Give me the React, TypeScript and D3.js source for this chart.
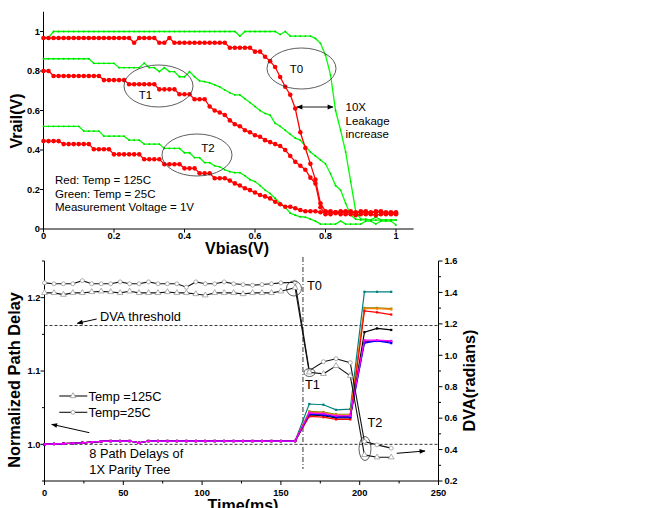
import React from 'react';
import * as d3 from 'd3';

const FONT = "'Liberation Sans', Arial, Helvetica, sans-serif";

// ---------- Top chart data (Vbias sampled every 1/70 V) ----------
const VBIAS_STEP = 1 / 70;
const redT0 = [
  0.967,0.967,0.967,0.967,0.967,0.967,0.967,0.967,0.967,0.967,
  0.967,0.967,0.967,0.967,0.967,0.967,0.967,0.967,0.943,0.967,
  0.967,0.967,0.967,0.943,0.943,0.967,0.943,0.943,0.943,0.943,
  0.943,0.943,0.943,0.943,0.943,0.943,0.943,0.918,0.918,0.918,
  0.918,0.918,0.898,0.898,0.872,0.85,0.82,0.77,0.72,0.68,
  0.61,0.49,0.41,0.33,0.25,0.13,0.09,0.09,0.08,0.09,
  0.09,0.09,0.08,0.09,0.09,0.08,0.09,0.09,0.08,0.08,0.08];
const greenT0 = [
  0.97,0.97,1,1,1,1,1,1,1,1,
  1,1,1,1,1,1,1,1,1,1,
  1,1,1,1,1,1,1,1,1,1,
  1,1,1,1,1,1,1,1,1,0.977,
  1,1,1,1,1,1,1,0.985,1,0.977,
  0.977,0.977,0.977,0.977,0.965,0.94,0.88,0.78,0.6,0.5,
  0.39,0.24,0.09,0.05,0.05,0.045,0.045,0.045,0.045,0.045,0.045];
const greenT1 = [
  0.862,0.862,0.862,0.862,0.862,0.862,0.862,0.862,0.862,0.862,
  0.839,0.839,0.839,0.839,0.839,0.817,0.817,0.817,0.817,0.817,
  0.84,0.817,0.817,0.797,0.817,0.797,0.797,0.771,0.771,0.797,
  0.771,0.75,0.746,0.74,0.73,0.72,0.704,0.69,0.679,0.679,
  0.66,0.64,0.62,0.6,0.585,0.577,0.535,0.52,0.5,0.48,
  0.46,0.45,0.42,0.39,0.37,0.35,0.33,0.28,0.22,0.197,
  0.13,0.07,0.05,0.046,0.046,0.046,0.06,0.046,0.046,0.046,0.046];
const redT1 = [
  0.8,0.8,0.775,0.775,0.775,0.775,0.775,0.775,0.775,0.775,
  0.775,0.775,0.754,0.754,0.754,0.754,0.754,0.733,0.733,0.733,
  0.733,0.733,0.733,0.707,0.707,0.707,0.707,0.682,0.682,0.682,
  0.657,0.657,0.657,0.62,0.6,0.59,0.577,0.55,0.53,0.52,
  0.5,0.49,0.475,0.467,0.45,0.44,0.43,0.42,0.4,0.37,
  0.34,0.32,0.3,0.26,0.23,0.11,0.075,0.075,0.085,0.075,
  0.075,0.075,0.07,0.075,0.075,0.075,0.07,0.075,0.075,0.075,0.075];
const greenT2 = [
  0.52,0.52,0.52,0.52,0.52,0.52,0.52,0.52,0.496,0.496,
  0.496,0.496,0.47,0.47,0.47,0.47,0.47,0.45,0.45,0.45,
  0.43,0.43,0.43,0.43,0.408,0.408,0.408,0.408,0.386,0.386,
  0.361,0.361,0.336,0.336,0.32,0.315,0.3,0.29,0.285,0.285,
  0.27,0.25,0.24,0.22,0.197,0.18,0.156,0.13,0.11,0.08,
  0.07,0.062,0.06,0.05,0.04,0.025,0.025,0.025,0.025,0.04,
  0.025,0.025,0.025,0.025,0.04,0.04,0.025,0.04,0.04,0.04,0.02];
const redT2 = [
  0.445,0.445,0.445,0.445,0.43,0.43,0.43,0.43,0.43,0.43,
  0.404,0.404,0.404,0.404,0.378,0.378,0.378,0.378,0.378,0.378,
  0.353,0.353,0.353,0.353,0.328,0.328,0.328,0.328,0.307,0.307,
  0.307,0.282,0.282,0.282,0.257,0.257,0.257,0.245,0.231,0.22,
  0.206,0.197,0.185,0.172,0.165,0.155,0.138,0.125,0.113,0.113,
  0.105,0.096,0.09,0.09,0.09,0.085,0.085,0.085,0.085,0.085,
  0.085,0.085,0.085,0.085,0.085,0.085,0.085,0.085,0.085,0.085,0.085];

const topTicks = [0, 0.2, 0.4, 0.6, 0.8, 1];
const topTickLabels = ['0', '0.2', '0.4', '0.6', '0.8', '1'];
const topLegend = ['Red: Temp = 125C', 'Green: Temp = 25C', 'Measurement Voltage = 1V'];

// ---------- Bottom chart data ----------
const timeMs = [0,6,12,18,24,30,36,42,48,54,60,66,72,78,84,90,96,102,108,114,120,126,132,138,144,150,159,168,177,185,194,203,211,220];
const dva25C = [
  1.461,1.455,1.455,1.455,1.475,1.455,1.455,1.455,1.467,1.455,
  1.455,1.467,1.455,1.455,1.455,1.433,1.467,1.455,1.455,1.467,
  1.455,1.45,1.446,1.45,1.455,1.461,1.465,
  0.902,0.959,0.978,0.953,0.451,0.43,0.409];
const dva125C = [
  1.397,1.397,1.386,1.397,1.397,1.403,1.407,1.403,1.397,1.407,
  1.397,1.397,1.397,1.403,1.397,1.397,1.39,1.382,1.397,1.397,
  1.397,1.39,1.397,1.397,1.397,1.407,1.43,
  0.892,0.882,0.933,0.87,0.366,0.351,0.351];
const flatDelay = [
  1.0,1.0005,1.001,1.0015,1.002,1.003,1.004,1.0045,1.0045,1.0045,
  1.002,1.0045,1.0045,1.0045,1.0045,1.0045,1.0045,1.0045,1.0045,1.0045,
  1.0045,1.0045,1.0045,1.0045,1.0045,1.0045,1.0045];
const tailTeal = [1.055,1.054,1.047,1.048,1.208,1.208,1.208];
const tailOlive = [1.045,1.044,1.041,1.041,1.186,1.186,1.185];
const tailOrange = [1.044,1.043,1.04,1.04,1.185,1.185,1.184];
const tailBlack = [1.04,1.039,1.036,1.036,1.153,1.158,1.156];
const tailRed = [1.038,1.037,1.034,1.034,1.182,1.18,1.177];
const tailPurple = [1.042,1.041,1.038,1.038,1.14,1.141,1.14];
const tailBlue = [1.041,1.04,1.037,1.037,1.138,1.141,1.138];
const tailMagenta = [1.043,1.042,1.039,1.039,1.142,1.142,1.141];
const pathColors = ['#008080','#808000','#ff8000','#000000','#ff0000','#800080','#0000ff','#ff00ff'];
const pathTails = [tailTeal, tailOlive, tailOrange, tailBlack, tailRed, tailPurple, tailBlue, tailMagenta];

const botXTicks = [0, 50, 100, 150, 200, 250];
const botXMinor = [25, 75, 125, 175, 225];
const leftTicks = [1.0, 1.1, 1.2];
const leftTickLabels = ['1.0', '1.1', '1.2'];
const leftMinor = [0.95, 1.05, 1.15, 1.25];
const rightTicks = [0.2, 0.4, 0.6, 0.8, 1.0, 1.2, 1.4, 1.6];
const rightTickLabels = ['0.2', '0.4', '0.6', '0.8', '1.0', '1.2', '1.4', '1.6'];
const rightMinor = [0.3, 0.5, 0.7, 0.9, 1.1, 1.3, 1.5];
const thresholdDelay = 1.162;
const baseDelay = 1.0;
const markerTime = 164;

export default function App() {
  // scales
  const xTop = d3.scaleLinear().domain([0, 1]).range([43.5, 396]);
  const yTop = d3.scaleLinear().domain([0, 1]).range([229, 31.5]);
  const xBot = d3.scaleLinear().domain([0, 250]).range([44.5, 438.5]);
  const yL = d3.scaleLinear().domain([0.95, 1.25]).range([481, 261]);
  const yR = d3.scaleLinear().domain([0.2, 1.6]).range([481, 261]);

  const topLine = d3.line<number>().x((_, i) => xTop(i * VBIAS_STEP)).y((d) => yTop(d));
  const topSeries = [
    { d: greenT0, c: '#00ff00', red: false },
    { d: greenT1, c: '#00ff00', red: false },
    { d: greenT2, c: '#00ff00', red: false },
    { d: redT0, c: '#ff0000', red: true },
    { d: redT1, c: '#ff0000', red: true },
    { d: redT2, c: '#ff0000', red: true },
  ];

  const lineL = d3.line<number>().x((_, i) => xBot(timeMs[i])).y((d) => yL(d));
  const lineR = d3.line<number>().x((_, i) => xBot(timeMs[i])).y((d) => yR(d));
  const paths = pathTails.map((t) => flatDelay.concat(t));
  const sq = d3.symbol().type(d3.symbolSquare).size(5)();
  const tri = d3.symbol().type(d3.symbolTriangle).size(14)();
  const tickFont = { fontFamily: FONT, fontSize: 9.3, fontWeight: 700 } as const;
  const txt = { fontFamily: FONT, fontSize: 11.5 } as const;
  const txtB = { fontFamily: FONT, fontSize: 12.8 } as const;

  return (
    <svg width={645} height={508} style={{ position: 'absolute', left: 0, top: 0, background: '#fff' }}>
      <defs>
        <marker id="ah" viewBox="0 0 10 10" refX="9" refY="5" markerWidth="7" markerHeight="6" orient="auto-start-reverse" markerUnits="userSpaceOnUse">
          <path d="M0,1 L10,5 L0,9 z" fill="#000" />
        </marker>
      </defs>

      {/* ===== TOP CHART ===== */}
      <g>
        <line x1={xTop(0)} x2={xTop(0)} y1={yTop(0)} y2={yTop(1.1)} stroke="#000" strokeWidth={1} />
        <line x1={xTop(0)} x2={xTop(1.05)} y1={yTop(0)} y2={yTop(0)} stroke="#000" strokeWidth={1} />
        {topTicks.map((t, i) => (
          <g key={'ty' + i}>
            <line x1={xTop(0) - 3.5} x2={xTop(0)} y1={yTop(t)} y2={yTop(t)} stroke="#000" />
            <text x={xTop(0) - 3.5} y={yTop(t)} dy="0.35em" textAnchor="end" style={tickFont}>{topTickLabels[i]}</text>
            <line x1={xTop(t)} x2={xTop(t)} y1={yTop(0)} y2={yTop(0) + 3.5} stroke="#000" />
            <text x={xTop(t)} y={yTop(0) + 10} textAnchor="middle" style={tickFont}>{topTickLabels[i]}</text>
          </g>
        ))}
        {topSeries.map((s, k) => (
          <g key={'ts' + k}>
            <path d={topLine(s.d) || ''} fill="none" stroke={s.c} strokeWidth={1.3} />
            {s.red
              ? s.d.map((v, i) => <circle key={i} cx={xTop(i * VBIAS_STEP)} cy={yTop(v)} r={2.3} fill="#ff0000" />)
              : s.d.map((v, i) => <circle key={i} cx={xTop(i * VBIAS_STEP)} cy={yTop(v)} r={0.9} fill="#00d000" />)}
          </g>
        ))}
        {/* annotations */}
        <ellipse cx={301.5} cy={68.5} rx={34.5} ry={20.5} fill="none" stroke="#333" strokeWidth={0.8} />
        <text x={296.5} y={72.5} textAnchor="middle" style={txt}>T0</text>
        <ellipse cx={158.5} cy={86} rx={34.5} ry={21} fill="none" stroke="#333" strokeWidth={0.8} />
        <text x={145.5} y={99} textAnchor="middle" style={txt}>T1</text>
        <ellipse cx={197} cy={155} rx={35} ry={21} fill="none" stroke="#333" strokeWidth={0.8} />
        <text x={208} y={151.5} textAnchor="middle" style={txt}>T2</text>
        <line x1={297} x2={333} y1={107} y2={107} stroke="#000" strokeWidth={0.9} markerStart="url(#ah)" markerEnd="url(#ah)" />
        <text x={345.5} y={111} style={txt}>10X</text>
        <text x={345.5} y={125} style={txt}>Leakage</text>
        <text x={345.5} y={138} style={txt}>increase</text>
        {topLegend.map((s, i) => (
          <text key={'tl' + i} x={55} y={184 + i * 13.5} style={txt}>{s}</text>
        ))}
        <text transform={`translate(22,121) rotate(-90)`} textAnchor="middle" style={{ fontFamily: FONT, fontSize: 16, fontWeight: 700 }}>Vrail(V)</text>
        <text x={237} y={253.5} textAnchor="middle" style={{ fontFamily: FONT, fontSize: 16, fontWeight: 700 }}>Vbias(V)</text>
      </g>

      {/* ===== BOTTOM CHART ===== */}
      <g>
        <line x1={xBot(0)} x2={xBot(0)} y1={yL(0.95)} y2={yL(1.25)} stroke="#000" />
        <line x1={xBot(250)} x2={xBot(250)} y1={yL(0.95)} y2={yL(1.25)} stroke="#000" />
        <line x1={xBot(0)} x2={xBot(250)} y1={yL(0.95)} y2={yL(0.95)} stroke="#000" />
        {botXTicks.map((t, i) => (
          <g key={'bx' + i}>
            <line x1={xBot(t)} x2={xBot(t)} y1={yL(0.95)} y2={yL(0.95) + 4} stroke="#000" />
            <text x={xBot(t)} y={495.5} textAnchor="middle" style={tickFont}>{String(t)}</text>
          </g>
        ))}
        {botXMinor.map((t, i) => (
          <line key={'bxm' + i} x1={xBot(t)} x2={xBot(t)} y1={yL(0.95)} y2={yL(0.95) + 2.5} stroke="#000" />
        ))}
        {leftTicks.map((t, i) => (
          <g key={'bl' + i}>
            <line x1={xBot(0) - 4} x2={xBot(0)} y1={yL(t)} y2={yL(t)} stroke="#000" />
            <text x={xBot(0) - 4} y={yL(t)} dy="0.35em" textAnchor="end" style={tickFont}>{leftTickLabels[i]}</text>
          </g>
        ))}
        {leftMinor.map((t, i) => (
          <line key={'blm' + i} x1={xBot(0) - 2.5} x2={xBot(0)} y1={yL(t)} y2={yL(t)} stroke="#000" />
        ))}
        {rightTicks.map((t, i) => (
          <g key={'br' + i}>
            <line x1={xBot(250)} x2={xBot(250) + 4} y1={yR(t)} y2={yR(t)} stroke="#000" />
            <text x={xBot(250) + 6} y={yR(t)} dy="0.35em" style={tickFont}>{rightTickLabels[i]}</text>
          </g>
        ))}
        {rightMinor.map((t, i) => (
          <line key={'brm' + i} x1={xBot(250)} x2={xBot(250) + 2.5} y1={yR(t)} y2={yR(t)} stroke="#000" />
        ))}

        {/* reference lines */}
        <line x1={xBot(0)} x2={xBot(250)} y1={yL(thresholdDelay)} y2={yL(thresholdDelay)} stroke="#000" strokeWidth={0.8} strokeDasharray="3,2" />
        <line x1={xBot(0)} x2={xBot(250)} y1={yL(baseDelay)} y2={yL(baseDelay)} stroke="#000" strokeWidth={0.8} strokeDasharray="3,2" />
        <line x1={xBot(markerTime)} x2={xBot(markerTime)} y1={257} y2={469} stroke="#000" strokeWidth={0.8} strokeDasharray="5,2,1,2" />

        {/* path delays */}
        {paths.map((p, k) => (
          <g key={'p' + k}>
            <path d={lineL(p) || ''} fill="none" stroke={pathColors[k]} strokeWidth={1.2} />
            {p.map((v, i) => (
              <path key={i} d={sq || ''} transform={`translate(${xBot(timeMs[i])},${yL(v)})`} fill={pathColors[k]} />
            ))}
          </g>
        ))}

        {/* DVA lines */}
        <path d={lineR(dva25C) || ''} fill="none" stroke="#111" strokeWidth={1.1} />
        <path d={lineR(dva125C) || ''} fill="none" stroke="#111" strokeWidth={1.1} />
        {dva25C.map((v, i) => (
          <circle key={'c' + i} cx={xBot(timeMs[i])} cy={yR(v)} r={2} fill="#fff" stroke="#999" strokeWidth={0.8} />
        ))}
        {dva125C.map((v, i) => (
          <path key={'t' + i} d={tri || ''} transform={`translate(${xBot(timeMs[i])},${yR(v)})`} fill="#fff" stroke="#999" strokeWidth={0.8} />
        ))}

        {/* annotations */}
        <circle cx={294} cy={288.5} r={7.5} fill="none" stroke="#333" strokeWidth={0.8} />
        <text x={307} y={290} style={txtB}>T0</text>
        <ellipse cx={309.5} cy={372.5} rx={5.5} ry={4} fill="none" stroke="#333" strokeWidth={0.8} />
        <text x={305} y={388.5} style={txtB}>T1</text>
        <ellipse cx={365} cy={448.5} rx={6} ry={12} fill="none" stroke="#333" strokeWidth={0.8} />
        <text x={367.5} y={426.5} style={txtB}>T2</text>
        <line x1={396.7} y1={453.3} x2={425} y2={451} stroke="#000" strokeWidth={1} markerEnd="url(#ah)" />
        <text x={100} y={321} style={txtB}>DVA threshold</text>
        <line x1={96.7} y1={319} x2={77.3} y2={323.3} stroke="#000" strokeWidth={1} markerEnd="url(#ah)" />
        <line x1={59.3} x2={87.3} y1={396} y2={396} stroke="#111" strokeWidth={1.1} />
        <path d={tri || ''} transform="translate(73,396)" fill="#fff" stroke="#999" strokeWidth={0.8} />
        <text x={88.5} y={400.5} style={txtB}>Temp =125C</text>
        <line x1={59.3} x2={87.3} y1={412.3} y2={412.3} stroke="#111" strokeWidth={1.1} />
        <circle cx={73} cy={412.3} r={2} fill="#fff" stroke="#999" strokeWidth={0.8} />
        <text x={88.5} y={416.8} style={txtB}>Temp=25C</text>
        <line x1={89.3} y1={432.7} x2={51.7} y2={424.3} stroke="#000" strokeWidth={1} markerEnd="url(#ah)" />
        <text x={89.3} y={458} style={txtB}>8 Path Delays of</text>
        <text x={89.3} y={474} style={txtB}>1X Parity Tree</text>

        <text transform={`translate(20,380) rotate(-90)`} textAnchor="middle" style={{ fontFamily: FONT, fontSize: 16.3, fontWeight: 700 }}>Normalized Path Delay</text>
        <text transform={`translate(475,380.5) rotate(-90)`} textAnchor="middle" style={{ fontFamily: FONT, fontSize: 16.3, fontWeight: 700 }}>DVA(radians)</text>
        <text x={243} y={511} textAnchor="middle" style={{ fontFamily: FONT, fontSize: 16, fontWeight: 700 }}>Time(ms)</text>
      </g>
    </svg>
  );
}
